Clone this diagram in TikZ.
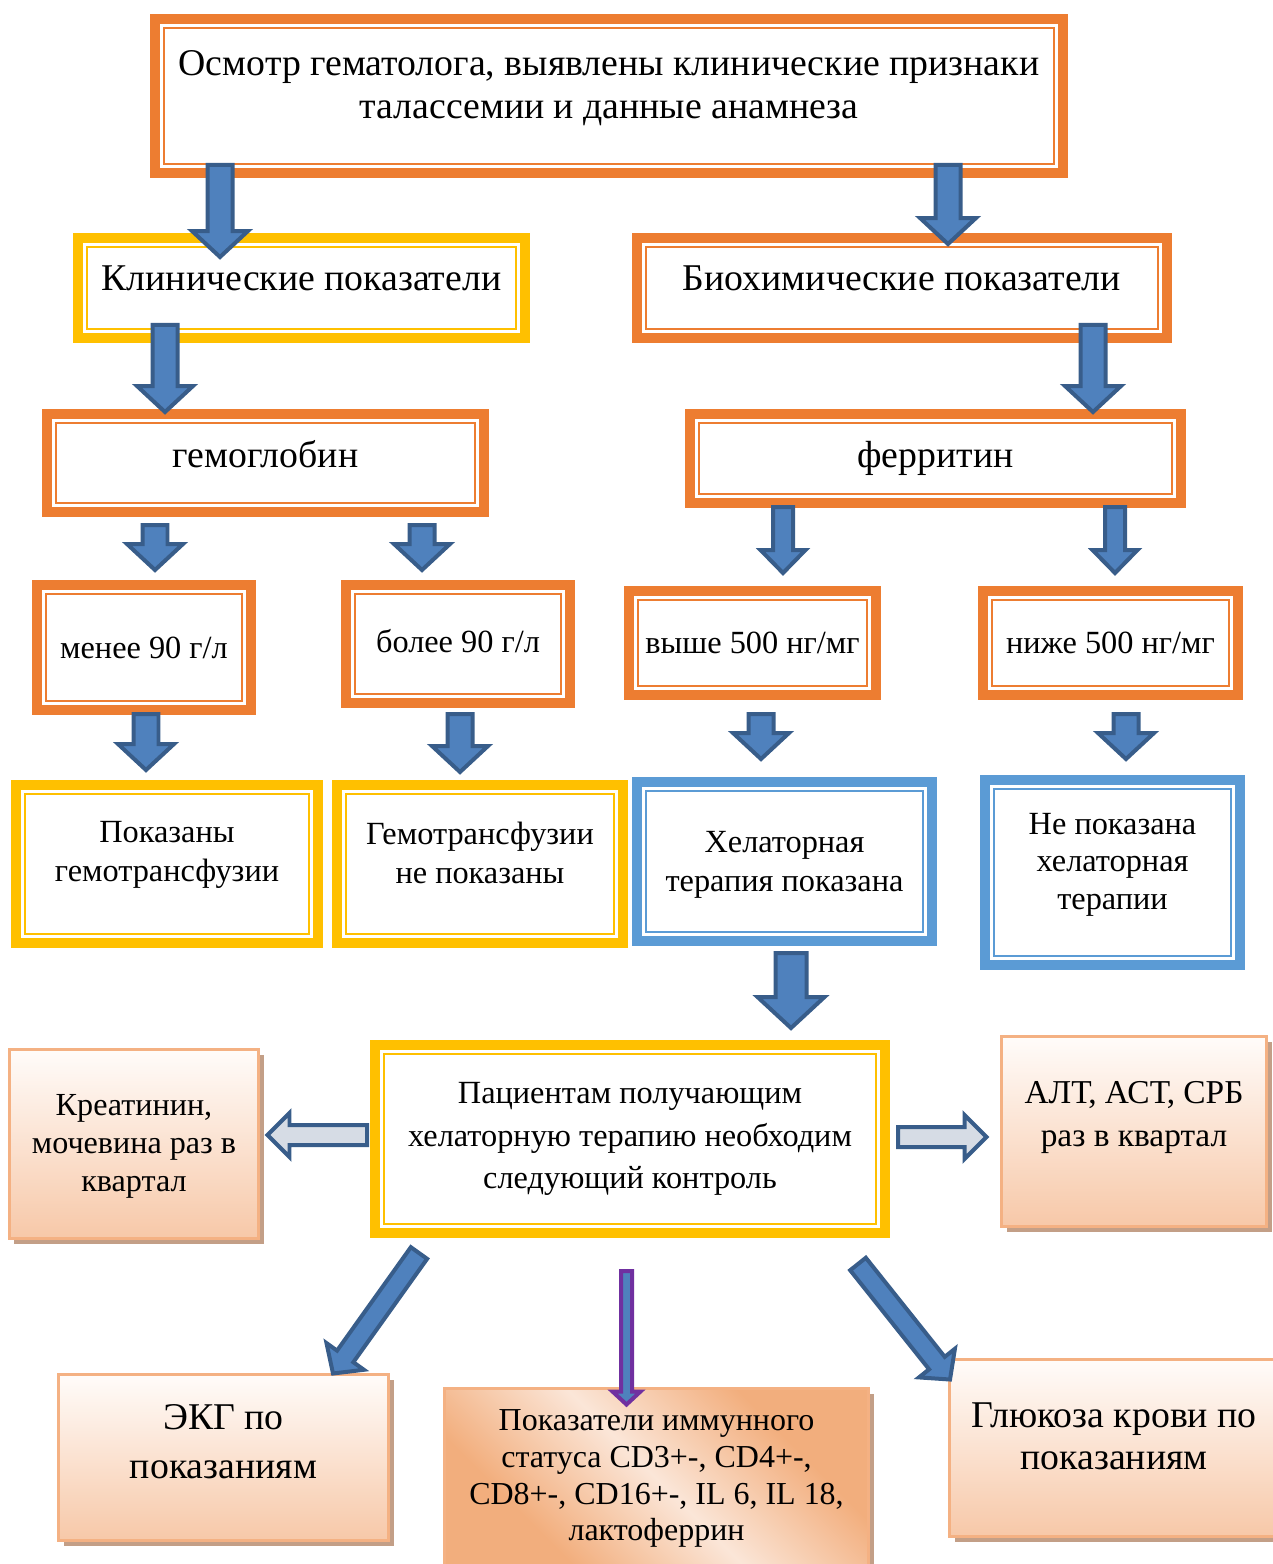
\documentclass[tikz,border=0pt]{standalone}
\usepackage{fontspec}
\setmainfont{Liberation Serif}
\usetikzlibrary{calc, shadows}

\definecolor{frameorange}{HTML}{ED7D31}
\definecolor{frameyellow}{HTML}{FFC000}
\definecolor{frameblue}{HTML}{5B9BD5}
\definecolor{arrowfill}{HTML}{4F81BD}
\definecolor{arrowline}{HTML}{385D8A}
\definecolor{hollowfill}{HTML}{D6DCE5}
\definecolor{arrowpurple}{HTML}{7030A0}
\definecolor{peachline}{HTML}{F4B183}
\definecolor{peachtop}{HTML}{FFFCFA}
\definecolor{peachbottom}{HTML}{F7C8A8}
\definecolor{peachdeep}{HTML}{F2AE7D}
\definecolor{peachlight}{HTML}{FBE6D8}
\definecolor{shadowtan}{HTML}{C39F87}

\pgfdeclarehorizontalshading{immshade}{100bp}{color(0bp)=(peachdeep); color(30bp)=(peachdeep); color(50bp)=(peachlight); color(70bp)=(peachdeep); color(100bp)=(peachdeep)}

\begin{document}
\begin{tikzpicture}[x=0.02cm, y=0.02cm]
	\tikzset{%
		dframe/.style={draw=#1, line width=0.2cm, fill=white, align=center, inner sep=0pt,
			path picture={\draw[#1, line width=0.04cm]
				([shift={(0.18cm,0.18cm)}]path picture bounding box.south west) rectangle
				([shift={(-0.18cm,-0.18cm)}]path picture bounding box.north east);}},
		peachbox/.style={draw=peachline, line width=0.06cm, top color=peachtop, bottom color=peachbottom, align=center, inner sep=0pt,
			drop shadow={shadow xshift=0.1cm, shadow yshift=-0.1cm, fill=shadowtan, opacity=1}},
		sz/.style 2 args={minimum width=#1*0.02cm, minimum height=#2*0.02cm},
		txtbig/.style={font=\fontsize{21.5}{24.4}\selectfont},
		txtmid/.style={font=\fontsize{18.4}{22}\selectfont},
		txtsmall/.style={font=\fontsize{18.3}{21.5}\selectfont},
		ashaft/.store in=\arrshaft, ahead/.store in=\arrhead, ahlen/.store in=\arrhlen,
		ashaft=0.25cm, ahead=0.56cm, ahlen=0.52cm,
		blockarrow/.style={draw=arrowline, fill=arrowfill, line width=0.08cm, line join=miter,
			to path={-- ($(\tikztostart)!\arrshaft!90:(\tikztotarget)$)
				-- ($(\tikztotarget)!\arrhlen!(\tikztostart)!\arrshaft!90:(\tikztotarget)$)
				-- ($(\tikztotarget)!\arrhlen!(\tikztostart)!\arrhead!90:(\tikztotarget)$)
				-- (\tikztotarget)
				-- ($(\tikztotarget)!\arrhlen!(\tikztostart)!\arrhead!-90:(\tikztotarget)$)
				-- ($(\tikztotarget)!\arrhlen!(\tikztostart)!\arrshaft!-90:(\tikztotarget)$)
				-- ($(\tikztostart)!\arrshaft!-90:(\tikztotarget)$)
				-- cycle}},
		hollowarrow/.style={blockarrow, fill=hollowfill, ashaft=0.2cm, ahead=0.44cm, ahlen=0.44cm},
		thinarrow/.style={blockarrow, draw=arrowpurple, ashaft=0.11cm, ahead=0.28cm, ahlen=0.26cm}
	}
	\useasboundingbox (0,0) rectangle (1273,-1564);

	\node[dframe=frameorange, sz={908}{154}, txtbig, text depth=13pt](exam) at (609,-96){Осмотр гематолога, выявлены клинические признаки\\талассемии и данные анамнеза};
	\node[dframe=frameyellow, sz={447}{100}, txtbig, text depth=11.4pt](clin) at (301.5,-288){Клинические показатели};
	\node[dframe=frameorange, sz={530}{100}, txtbig, text depth=11.4pt](bio) at (902,-288){Биохимические показатели};
	\node[dframe=frameorange, sz={437}{98}, txtbig, text depth=10.2pt](hgb) at (265.5,-463){гемоглобин};
	\node[dframe=frameorange, sz={491}{89}, txtbig](fer) at (935.5,-458.5){ферритин};
	\node[dframe=frameorange, sz={214}{125}, txtmid](hgblow) at (144,-647.5){менее 90 г/л};
	\node[dframe=frameorange, sz={224}{118}, txtmid, text depth=3.4pt](hgbhigh) at (458,-644){более 90 г/л};
	\node[dframe=frameorange, sz={247}{104}, txtmid](ferhigh) at (752.5,-643){выше 500 нг/мг};
	\node[dframe=frameorange, sz={255}{104}, txtmid](ferlow) at (1110.5,-643){ниже 500 нг/мг};
	\node[dframe=frameyellow, sz={302}{158}, txtmid, text depth=14.2pt](transyes) at (167,-864){Показаны\\гемотрансфузии};
	\node[dframe=frameyellow, sz={286}{158}, txtmid, text depth=12.5pt](transno) at (480,-864){Гемотрансфузии\\не показаны};
	\node[dframe=frameblue, sz={295}{159}, txtmid, text depth=0pt](chelyes) at (784.5,-861.5){Хелаторная\\терапия показана};
	\node[dframe=frameblue, sz={255}{185}, font=\fontsize{18.4}{21.3}\selectfont, text depth=13pt](chelno) at (1112.5,-872.5){Не показана\\хелаторная\\терапии};
	\node[dframe=frameyellow, sz={510}{188}, font=\fontsize{18.4}{24.4}\selectfont](control) at (630,-1139){Пациентам получающим\\хелаторную терапию необходим\\следующий контроль};
	\node[peachbox, sz={249}{189}, txtsmall, text depth=1pt](kidney) at (134,-1144){Креатинин,\\мочевина раз в\\квартал};
	\node[peachbox, sz={265}{190}, font=\fontsize{19}{25}\selectfont, text depth=20pt](liver) at (1134,-1131.5){АЛТ, АСТ, СРБ\\раз в квартал};
	\node[peachbox, sz={330}{166}, font=\fontsize{21.5}{28.4}\selectfont, text depth=18.2pt](ecg) at (223.5,-1457.5){ЭКГ по\\показаниям};
	\node[peachbox, shade, shading=immshade, shading angle=45, sz={424}{180}, font=\fontsize{18.2}{21}\selectfont](immune) at (656.5,-1478.5){Показатели иммунного\\статуса CD3+-, CD4+-,\\CD8+-, CD16+-, IL 6, IL 18,\\лактоферрин};
	\node[peachbox, sz={329}{177}, txtbig, text depth=13.6pt](glucose) at (1114,-1448){Глюкоза крови по\\показаниям};

	\draw[blockarrow] ([shift={(-389,13)}]exam.south) to ([shift={(-81.5,-24)}]clin.north);
	\draw[blockarrow] ([shift={(339,13)}]exam.south) to ([shift={(46,-11)}]bio.north);
	\draw[blockarrow] ([shift={(-136.5,18)}]clin.south) to ([shift={(-100.5,-3)}]hgb.north);
	\draw[blockarrow] ([shift={(191,18)}]bio.south) to ([shift={(157.5,-3)}]fer.north);
	\draw[blockarrow] ([shift={(-110.5,-8)}]hgb.south) to ([shift={(11,10)}]hgblow.north);
	\draw[blockarrow] ([shift={(156.5,-8)}]hgb.south) to ([shift={(-36,10)}]hgbhigh.north);
	\draw[blockarrow, ashaft=0.2cm, ahead=0.45cm, ahlen=0.46cm] ([shift={(-152.5,1)}]fer.south) to ([shift={(30.5,13)}]ferhigh.north);
	\draw[blockarrow, ashaft=0.2cm, ahead=0.45cm, ahlen=0.46cm] ([shift={(179.5,1)}]fer.south) to ([shift={(4.5,13)}]ferlow.north);
	\draw[blockarrow] ([shift={(2,1)}]hgblow.south) to ([shift={(-21,10)}]transyes.north);
	\draw[blockarrow] ([shift={(2,-6)}]hgbhigh.south) to ([shift={(-20,8)}]transno.north);
	\draw[blockarrow] ([shift={(8.5,-14)}]ferhigh.south) to ([shift={(-23.5,18)}]chelyes.north);
	\draw[blockarrow] ([shift={(15.5,-14)}]ferlow.south) to ([shift={(13.5,16)}]chelno.north);
	\draw[blockarrow, ashaft=0.31cm, ahead=0.67cm, ahlen=0.62cm] ([shift={(6.5,-7)}]chelyes.south) to ([shift={(161,12)}]control.north);
	\draw[hollowarrow] ([shift={(-3,4)}]control.west) to ([shift={(7.5,9)}]kidney.east);
	\draw[hollowarrow] ([shift={(8,2)}]control.east) to ([shift={(-13.5,-5.5)}]liver.west);
	\draw[blockarrow, ashaft=0.2cm, ahead=0.46cm, ahlen=0.42cm] ([shift={(-211,-15)}]control.south) to ([shift={(109.5,-0.5)}]ecg.north);
	\draw[blockarrow, ashaft=0.2cm, ahead=0.46cm, ahlen=0.42cm] ([shift={(228,-26)}]control.south) to ([shift={(-164,-21.5)}]glucose.north);
	\draw[thinarrow] ([shift={(-3.5,-33)}]control.south) to ([shift={(-30,-17.5)}]immune.north);
\end{tikzpicture}
\end{document}
